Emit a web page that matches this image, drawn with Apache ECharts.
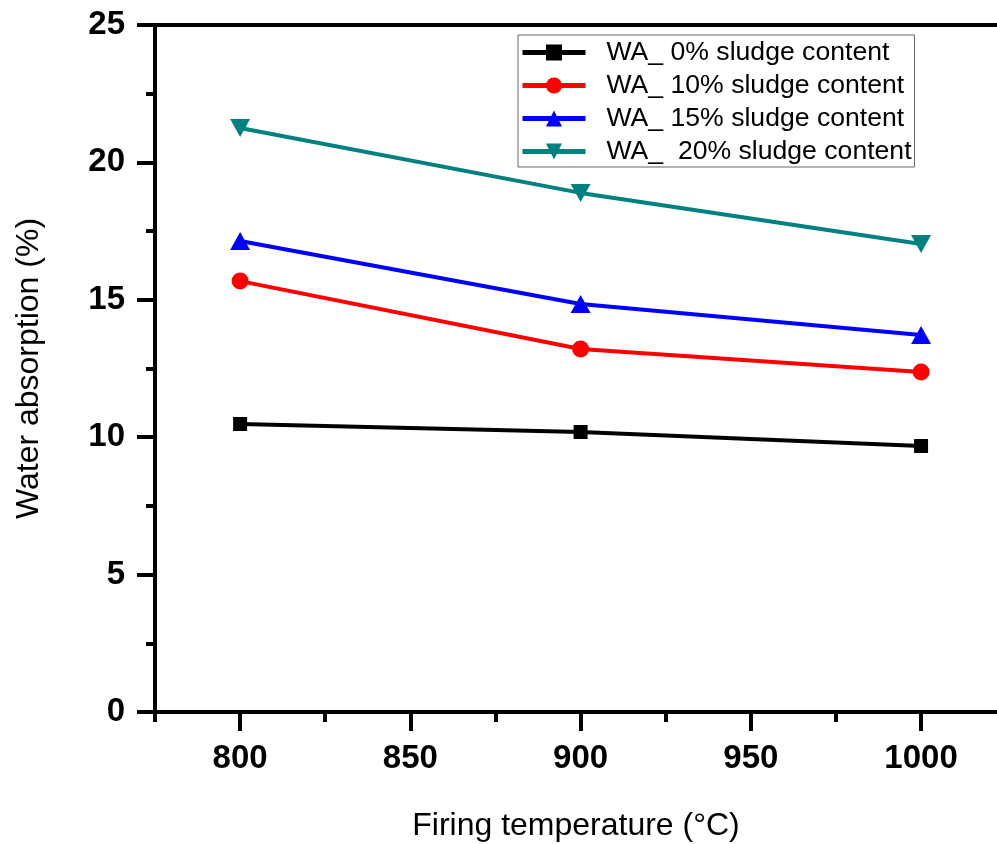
<!DOCTYPE html>
<html>
<head>
<meta charset="utf-8">
<script src="https://cdn.jsdelivr.net/npm/echarts@6/dist/echarts.min.js"></script>
<style>
  html, body { margin: 0; padding: 0; background: #fff; }
  #main { width: 997px; height: 844px; }
</style>
</head>
<body>
<div id="main"></div>
<script>
var temps = [800, 900, 1000];
var wa0 = [10.48, 10.19, 9.68];
var wa10 = [15.68, 13.21, 12.37];
var wa15 = [17.14, 14.85, 13.72];
var wa20 = [21.25, 18.89, 17.03];
var seriesNames = ['WA_ 0% sludge content', 'WA_ 10% sludge content', 'WA_ 15% sludge content', 'WA_  20% sludge content'];
var xMajor = [800, 850, 900, 950, 1000];
var xMinor = [775, 825, 875, 925, 975];

var chart = echarts.init(document.getElementById('main'), null, { renderer: 'canvas' });

var FONT = 'Liberation Sans, Arial, sans-serif';
var axisLineStyle = { color: '#000', width: 4 };
// the picture is cut at the right, so the axis ends a bit before 1025
var X_MIN = 775, X_MAX = 1022.3;

function pairs(vals) {
    return temps.map(function (t, i) { return [t, vals[i]]; });
}

function mkSeries(name, vals, color, symbol, size, rotate) {
    return {
        name: name,
        type: 'line',
        data: pairs(vals),
        symbol: symbol,
        symbolSize: size,
        symbolRotate: rotate || 0,
        showAllSymbol: true,
        lineStyle: { color: color, width: 4 },
        itemStyle: { color: color },
        emphasis: { disabled: true },
        animation: false
    };
}

var option = {
    backgroundColor: '#fff',
    animation: false,
    grid: { left: 155, top: 25, right: 0, bottom: 132, outerBoundsMode: 'none' },
    legend: {
        orient: 'vertical',
        left: 518,
        top: 35,
        padding: [4, 3, 2, 2],
        itemGap: 6,
        itemWidth: 63,
        itemHeight: 20,
        borderColor: '#666',
        borderWidth: 1,
        backgroundColor: '#fff',
        lineStyle: { width: 5 },
        textStyle: { fontFamily: FONT, fontSize: 26.6, color: '#000', lineHeight: 26, padding: [0, 0, 0, 16] },
        data: seriesNames
    },
    xAxis: [
        {
            type: 'value',
            min: X_MIN,
            max: X_MAX,
            position: 'bottom',
            name: 'Firing temperature (°C)',
            nameLocation: 'middle',
            nameGap: 98,
            nameTextStyle: { fontFamily: FONT, fontSize: 32, color: '#000' },
            axisLine: { show: true, onZero: false, lineStyle: axisLineStyle },
            axisTick: { show: true, customValues: xMajor, length: 19, lineStyle: axisLineStyle },
            axisLabel: {
                customValues: xMajor, margin: 30, fontFamily: FONT, fontSize: 33, fontWeight: 'bold', color: '#000',
                formatter: function (v) { return String(v); }
            },
            splitLine: { show: false }
        },
        {
            type: 'value',
            min: X_MIN,
            max: X_MAX,
            position: 'bottom',
            axisLine: { show: false },
            axisTick: { show: true, customValues: xMinor, length: 10, lineStyle: axisLineStyle },
            axisLabel: { show: false },
            splitLine: { show: false }
        },
        {
            type: 'value',
            min: X_MIN,
            max: X_MAX,
            position: 'top',
            axisLine: { show: true, onZero: false, lineStyle: axisLineStyle },
            axisTick: { show: false },
            axisLabel: { show: false },
            splitLine: { show: false }
        }
    ],
    yAxis: {
        type: 'value',
        min: 0,
        max: 25,
        interval: 5,
        name: 'Water absorption (%)',
        nameLocation: 'middle',
        nameGap: 110,
        nameTextStyle: { fontFamily: FONT, fontSize: 32, color: '#000' },
        axisLine: { show: true, onZero: false, lineStyle: axisLineStyle },
        axisTick: { show: true, length: 18, lineStyle: axisLineStyle },
        minorTick: { show: true, splitNumber: 2, length: 9, lineStyle: axisLineStyle },
        axisLabel: { margin: 30, fontFamily: FONT, fontSize: 33, fontWeight: 'bold', color: '#000' },
        splitLine: { show: false },
        minorSplitLine: { show: false }
    },
    series: [
        mkSeries(seriesNames[0], wa0, '#000000', 'rect', 14),
        mkSeries(seriesNames[1], wa10, '#ff0000', 'circle', 17),
        mkSeries(seriesNames[2], wa15, '#0000ff', 'triangle', [20, 18]),
        mkSeries(seriesNames[3], wa20, '#008080', 'triangle', [20, 18], 180)
    ]
};

chart.setOption(option);
</script>
</body>
</html>
